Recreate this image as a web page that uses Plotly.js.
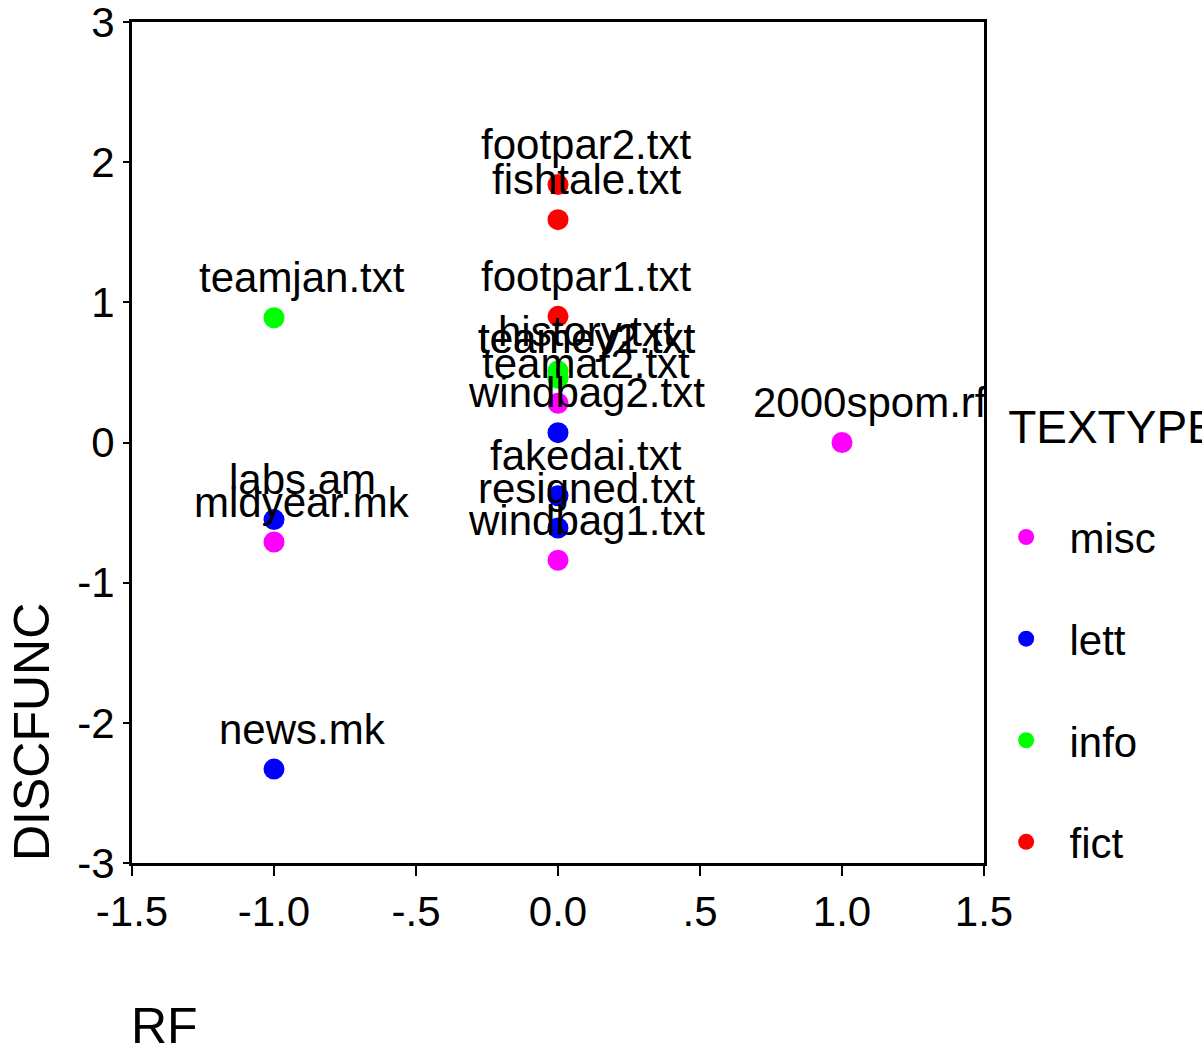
<!DOCTYPE html>
<html><head><meta charset="utf-8">
<script src="https://cdn.plot.ly/plotly-3.0.1.min.js"></script>
<style>html,body{margin:0;padding:0;background:#fff;}#chart{width:1202px;height:1053px;}</style>
</head><body><div id="chart"></div>
<script>
// Data (RF vs DISCFUNC by TEXTYPE)
const miscNames = ["teamat2.txt", "windbag1.txt", "midyear.mk", "2000spom.rf"];
const miscRF    = [0, 0, -1, 1];
const miscDF    = [0.28, -0.84, -0.71, 0.0];

const lettNames = ["windbag2.txt", "fakedai.txt", "resigned.txt", "labs.am", "news.mk"];
const lettRF    = [0, 0, 0, -1, -1];
const lettDF    = [0.07, -0.38, -0.61, -0.55, -2.33];

const infoNames = ["teamjan.txt", "history.txt", "teamey1.txt", "teamey2.txt"];
const infoRF    = [-1, 0, 0, 0];
const infoDF    = [0.89, 0.51, 0.46, 0.46];

const fictNames = ["footpar2.txt", "fishtale.txt", "footpar1.txt"];
const fictRF    = [0, 0, 0];
const fictDF    = [1.84, 1.59, 0.90];

const groups = ["misc", "lett", "info", "fict"];
const colors = ["#FF00FF", "#0000FF", "#00FF00", "#FF0000"];

const xTickVals = [-1.5, -1.0, -0.5, 0, 0.5, 1.0, 1.5];
const xTickText = ["-1.5", "-1.0", "-.5", "0.0", ".5", "1.0", "1.5"];
const yTickVals = [-3, -2, -1, 0, 1, 2, 3];
const yTickText = ["-3", "-2", "-1", "0", "1", "2", "3"];

const font = "Liberation Sans, Arial, sans-serif";
const series = [
  [miscRF, miscDF, miscNames],
  [lettRF, lettDF, lettNames],
  [infoRF, infoDF, infoNames],
  [fictRF, fictDF, fictNames]
];

const traces = series.map((s, i) => ({
  type: "scatter", mode: "markers",
  x: s[0], y: s[1], text: s[2],
  name: "\u00a0\u00a0" + groups[i], legendgroup: groups[i],
  marker: {color: colors[i], size: 21, line: {width: 0}},
  cliponaxis: false
}));

// point labels, anchored to the data points through the axes
const labelAnnotations = [];
series.forEach(s => {
  s[2].forEach((name, j) => {
    labelAnnotations.push({
      text: name, x: s[0][j], y: s[1][j], xref: "x", yref: "y",
      xanchor: "center", yanchor: "middle", xshift: 28, yshift: 40,
      showarrow: false, font: {family: font, size: 42, color: "#000"}
    });
  });
});

const layout = {
  width: 1202, height: 1053,
  paper_bgcolor: "#fff", plot_bgcolor: "#fff",
  margin: {l: 132, r: 218, t: 22, b: 190, autoexpand: false},
  font: {family: font, color: "#000", size: 42},
  showlegend: true,
  legend: {
    x: 1.026, xanchor: "left", y: 0.57, yanchor: "top",
    font: {family: font, size: 42, color: "#000"},
    title: {text: "TEXTYPE<br> ", font: {family: font, size: 46, color: "#000"}},
    traceorder: "grouped", tracegroupgap: 44,
    bgcolor: "rgba(0,0,0,0)"
  },
  xaxis: {
    range: [-1.5, 1.5], tickvals: xTickVals, ticktext: xTickText,
    showgrid: false, zeroline: false,
    showline: true, mirror: true, linecolor: "#000", linewidth: 3,
    ticks: "outside", ticklen: 10, tickwidth: 2, tickcolor: "#000",
    tickfont: {family: font, size: 42, color: "#000"},
    ticklabeloverflow: "allow"
  },
  yaxis: {
    range: [-3, 3], tickvals: yTickVals, ticktext: yTickText,
    showgrid: false, zeroline: false,
    showline: true, mirror: true, linecolor: "#000", linewidth: 3,
    ticks: "outside", ticklen: 6, tickwidth: 2, tickcolor: "#000",
    tickfont: {family: font, size: 42, color: "#000"},
    ticklabeloverflow: "allow"
  },
  annotations: labelAnnotations.concat([
    {text: "RF", xref: "paper", yref: "paper", x: -0.003, y: -0.158,
     xanchor: "left", yanchor: "top", showarrow: false,
     font: {family: font, size: 50, color: "#000"}},
    {text: "DISCFUNC", xref: "paper", yref: "paper", x: -0.1526, y: 0,
     xanchor: "left", yanchor: "bottom", textangle: -90, showarrow: false,
     font: {family: font, size: 50, color: "#000"}}
  ])
};

Plotly.newPlot("chart", traces, layout, {displayModeBar: false, staticPlot: true});
</script></body></html>
